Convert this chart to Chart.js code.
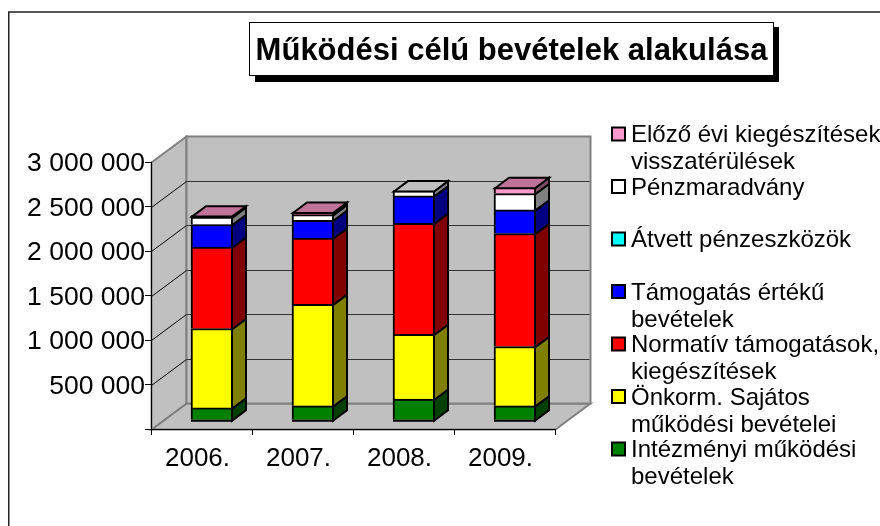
<!DOCTYPE html>
<html>
<head>
<meta charset="utf-8">
<title>Működési célú bevételek alakulása</title>
<script src="https://cdn.jsdelivr.net/npm/chart.js@4"></script>
<style>
  html, body { margin: 0; padding: 0; background: #fff; }
  canvas { display: block; }
</style>
</head>
<body>
<canvas id="chart" width="880" height="526"></canvas>
<script>
// Values
const years = ["2006.", "2007.", "2008.", "2009."];
const intezmenyi = [138000, 161000, 236000, 161000];
const onkorm = [892000, 1142000, 730000, 667000];
const normativ = [914000, 742000, 1247000, 1270000];
const tamogatas = [255000, 202000, 307000, 265000];
const atvett = [0, 0, 0, 0];
const penzmaradvany = [82000, 63000, 61000, 184000];
const elozoEvi = [18000, 30000, 0, 71000];

const titleText = "Működési célú bevételek alakulása";
const yTicks = [0, 500000, 1000000, 1500000, 2000000, 2500000, 3000000];

// Bottom to top, the same way the bars stack
const seriesList = [
  { label: ["Intézményi működési", "bevételek"], data: intezmenyi, color: "#008000", side: "#004000", top: "#006000" },
  { label: ["Önkorm. Sajátos", "működési bevételei"], data: onkorm, color: "#ffff00", side: "#808000", top: "#bfbf00" },
  { label: ["Normatív támogatások,", "kiegészítések"], data: normativ, color: "#ff0000", side: "#800000", top: "#bf0000" },
  { label: ["Támogatás értékű", "bevételek"], data: tamogatas, color: "#0000ff", side: "#000080", top: "#0000bf" },
  { label: ["Átvett pénzeszközök"], data: atvett, color: "#00ffff", side: "#008080", top: "#00bfbf" },
  { label: ["Pénzmaradvány"], data: penzmaradvany, color: "#ffffff", side: "#808080", top: "#c0c0c0" },
  { label: ["Előző évi kiegészítések", "visszatérülések"], data: elozoEvi, color: "#ff99cc", side: "#804d66", top: "#bf7399" },
];

// How far the back wall sits behind the axis plane
const wallDX = 35;
const wallDY = -26;
// Where the bars sit in that depth, as a share of it
const barFront = 0.3;
const barBack = 0.7;
// Chart.js draws a bar's border inside the bar, so half of it is added back
const halfBorder = 1;

// Draws the frame, the walls and the floor under everything else
const wallsPlugin = {
  id: "walls",
  beforeDraw(chart) {
    const { ctx, chartArea: a, scales } = chart;
    const y = scales.y;

    ctx.save();
    ctx.fillStyle = "#fff";
    ctx.fillRect(0, 0, chart.width, chart.height);
    // frame runs off the right and bottom of the picture
    ctx.strokeStyle = "#222";
    ctx.lineWidth = 1.5;
    ctx.strokeRect(8.75, 12, 900, 540);

    const poly = (pts, fill, stroke, width) => {
      ctx.beginPath();
      pts.forEach((p, i) => (i ? ctx.lineTo(p[0], p[1]) : ctx.moveTo(p[0], p[1])));
      ctx.closePath();
      ctx.fillStyle = fill;
      ctx.fill();
      if (stroke) {
        ctx.strokeStyle = stroke;
        ctx.lineWidth = width;
        ctx.stroke();
      }
    };

    const l = a.left + 0.5, r = a.right + 0.5, t = a.top + 0.5, b = a.bottom + 0.5;
    // floor, left wall, back wall
    poly([[l, b], [l + wallDX, b + wallDY], [r + wallDX, b + wallDY], [r, b]], "#c0c0c0", "#808080", 2);
    poly([[l, t], [l + wallDX, t + wallDY], [l + wallDX, b + wallDY], [l, b]], "#c0c0c0", "#808080", 2);
    poly([[l + wallDX, t + wallDY], [r + wallDX, t + wallDY], [r + wallDX, b + wallDY], [l + wallDX, b + wallDY]], "#c0c0c0", "#808080", 2);

    // gridlines run along the left wall and across the back
    yTicks.slice(1, -1).forEach((v) => {
      const py = Math.round(y.getPixelForValue(v)) + 0.5;
      ctx.beginPath();
      ctx.moveTo(l, py);
      ctx.lineTo(l + wallDX, py + wallDY);
      ctx.strokeStyle = "#000";
      ctx.lineWidth = 1;
      ctx.stroke();
      ctx.beginPath();
      ctx.moveTo(l + wallDX, py + wallDY);
      ctx.lineTo(r + wallDX - 1, py + wallDY);
      ctx.strokeStyle = "#333";
      ctx.stroke();
    });
    ctx.restore();
  },
  afterDraw(chart) {
    const { ctx } = chart;
    ctx.save();

    // title box with its hard shadow
    ctx.fillStyle = "#000";
    ctx.fillRect(255, 27, 524, 55);
    ctx.fillStyle = "#fff";
    ctx.fillRect(249.5, 22.5, 524, 53);
    ctx.strokeStyle = "#000";
    ctx.lineWidth = 1;
    ctx.strokeRect(249.5, 22.5, 524, 53);
    ctx.fillStyle = "#000";
    ctx.font = 'bold 31px "Liberation Sans"';
    ctx.textAlign = "center";
    ctx.textBaseline = "alphabetic";
    ctx.fillText(titleText, 511.5, 60);

    // legend, top entry is the last series
    ctx.font = '24px "Liberation Sans"';
    ctx.textAlign = "left";
    [...seriesList].reverse().forEach((s, i) => {
      const rowY = 134 + i * 52.5;
      ctx.fillStyle = s.color;
      ctx.fillRect(612, rowY - 6.5, 13, 13);
      ctx.strokeStyle = "#000";
      ctx.lineWidth = 2;
      ctx.strokeRect(612, rowY - 6.5, 13, 13);
      ctx.fillStyle = "#000";
      s.label.forEach((line, j) => ctx.fillText(line, 631, rowY + 8 + j * 27));
    });
    ctx.restore();
  },
};

// Shifts each bar back to its depth and adds the side and top faces
const barDepthPlugin = {
  id: "barDepth",
  beforeDatasetDraw(chart) {
    const { ctx } = chart;
    ctx.save();
    ctx.translate(wallDX * barFront, wallDY * barFront - halfBorder);
  },
  afterDatasetDraw(chart, args) {
    const { ctx } = chart;
    const s = seriesList[args.index];
    const dx = wallDX * (barBack - barFront);
    const dy = wallDY * (barBack - barFront);

    args.meta.data.forEach((bar, i) => {
      if (!s.data[i]) return;
      const { x, y, base, width } = bar.getProps(["x", "y", "base", "width"]);
      const right = x + width / 2 - halfBorder;
      const left = x - width / 2 + halfBorder;
      const topY = y + halfBorder;
      const baseY = base + halfBorder;
      const isTop = seriesList.slice(args.index + 1).every((o) => !o.data[i]);

      ctx.lineWidth = 2;
      ctx.strokeStyle = "#000";
      ctx.lineJoin = "miter";

      ctx.beginPath();
      ctx.moveTo(right, topY);
      ctx.lineTo(right + dx, topY + dy);
      ctx.lineTo(right + dx, baseY + dy);
      ctx.lineTo(right, baseY);
      ctx.closePath();
      ctx.fillStyle = s.side;
      ctx.fill();
      ctx.stroke();

      if (isTop) {
        ctx.beginPath();
        ctx.moveTo(left, topY);
        ctx.lineTo(left + dx, topY + dy);
        ctx.lineTo(right + dx, topY + dy);
        ctx.lineTo(right, topY);
        ctx.closePath();
        ctx.fillStyle = s.top;
        ctx.fill();
        ctx.stroke();
      }

      // bottom edge of the whole stack
      if (args.index === 0) {
        ctx.beginPath();
        ctx.moveTo(left - halfBorder, baseY);
        ctx.lineTo(right + halfBorder, baseY);
        ctx.stroke();
      }
    });
    ctx.restore();
  },
};

const ctx = document.getElementById("chart").getContext("2d");
new Chart(ctx, {
  type: "bar",
  data: {
    labels: years,
    datasets: seriesList.map((s) => ({
      label: s.label.join(" "),
      data: s.data,
      backgroundColor: s.color,
      borderColor: "#000",
      borderWidth: { top: 2, left: 2, right: 2, bottom: 0 },
      borderSkipped: false,
      barThickness: 42,
    })),
  },
  options: {
    responsive: false,
    animation: false,
    layout: { padding: { top: 162, right: 325, left: 0, bottom: 0 } },
    plugins: {
      legend: { display: false },
      title: { display: false },
      tooltip: { enabled: false },
    },
    scales: {
      x: {
        stacked: true,
        afterFit(scale) {
          scale.height = 97;
        },
        grid: { drawOnChartArea: false, color: "#000", tickLength: 6 },
        border: { color: "#000", width: 1 },
        ticks: {
          color: "#000",
          font: { family: "Liberation Sans", size: 26 },
          padding: 8,
          labelOffset: -4,
          maxRotation: 0,
        },
      },
      y: {
        stacked: true,
        min: 0,
        max: 3000000,
        afterFit(scale) {
          scale.width = 151;
        },
        afterBuildTicks(scale) {
          scale.ticks = yTicks.map((value) => ({ value }));
        },
        grid: { drawOnChartArea: false, color: "#000", tickLength: 6 },
        border: { color: "#000", width: 1 },
        ticks: {
          color: "#000",
          font: { family: "Liberation Sans", size: 26.5 },
          padding: 0,
          labelOffset: 2,
          autoSkip: false,
          callback(value) {
            // no label at zero, space as thousands separator
            return value === 0 ? "" : String(value).replace(/\B(?=(\d{3})+$)/g, " ");
          },
        },
      },
    },
  },
  plugins: [wallsPlugin, barDepthPlugin],
});
</script>
</body>
</html>
